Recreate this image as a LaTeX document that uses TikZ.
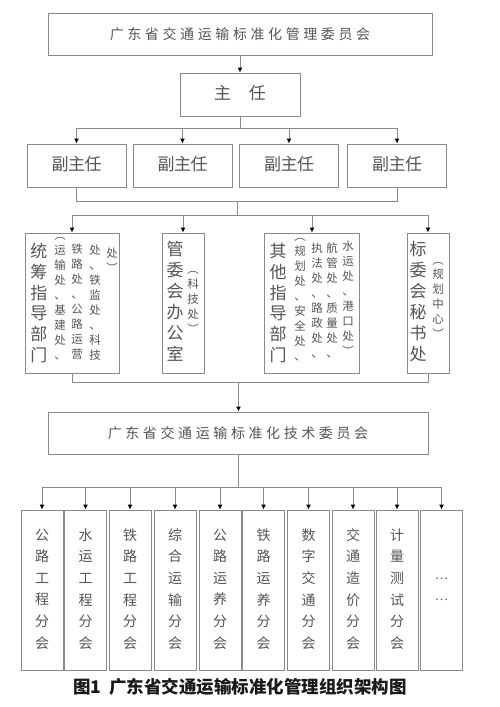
\documentclass[tikz,border=0pt]{standalone}
\usepackage{fontspec}
\usetikzlibrary{arrows.meta}
\newfontfamily\cjk{Noto Sans CJK SC}
\definecolor{txt}{HTML}{555555}
\definecolor{bord}{HTML}{8A8A8A}
\definecolor{lncol}{HTML}{8A8A8A}
\newdimen\cpitch
\def\vcend{}
\def\vcloop#1{\ifx#1\vcend\else\hbox to 1em{\hss#1\hss}\expandafter\vcloop\fi}
\newcommand\vcol[2]{\vbox{\baselineskip=#1\lineskiplimit=-100pt\lineskip=0pt\vcloop#2\vcend}}
\newcommand\vcolE[2]{\edef\tmpvc{\noexpand\vcol{#1}{#2}}\tmpvc}
\def\hrloop#1{\ifx#1\vcend\else\hbox to \cpitch{\hss#1\hss}\expandafter\hrloop\fi}
\newcommand\hrow[2]{\cpitch=#1\hbox{\hrloop#2\vcend}}
\tikzset{
  box/.style={draw=bord, line width=0.9pt, fill=white, inner sep=0pt},
  lbl/.style={inner sep=0pt, text=txt, font=\cjk},
  ln/.style={draw=lncol, line width=0.9pt},
  arr/.style={draw=lncol, line width=0.9pt, -{Latex[length=5pt,width=5pt,color=black]}},
}
\begin{document}
\begin{tikzpicture}[x=1pt,y=-1pt]
\useasboundingbox (0,0) rectangle (500,707);
\fill[white] (0,0) rectangle (500,707);
% top
\node[box, minimum width=384pt, minimum height=42pt] (top) at (240,34) {};
\node[lbl, font=\cjk\fontsize{14}{16}\selectfont] (toptx) at (240,34) {\hrow{17.6pt}{广东省交通运输标准化管理委员会}};
\node[box, minimum width=120pt, minimum height=43pt] (zr) at (240,94.5) {};
\node[lbl, font=\cjk\fontsize{17}{19}\selectfont] (zrtx) at (240,93.5) {\hrow{35pt}{主任}};
% fu
\foreach \i/\x in {1/76.5,2/182.5,3/289,4/397}{
  \node[box, minimum width=99pt, minimum height=43pt] (fu\i) at (\x,165.5) {};
  \node[lbl, font=\cjk\fontsize{17}{19}\selectfont] (fut\i) at (\x,164.5) {\hrow{16.5pt}{副主任}};
}
% departments
\node[box, minimum width=94pt, minimum height=140pt] (d1) at (72,303) {};
\node[box, minimum width=42pt, minimum height=140pt] (d2) at (183,303) {};
\node[box, minimum width=95pt, minimum height=140pt] (d3) at (312,303) {};
\node[box, minimum width=42pt, minimum height=140pt] (d4) at (428,303) {};
\begin{scope}[every node/.style={lbl}]
\node[font=\cjk\fontsize{17}{19}\selectfont] (d1a) at (39,303) {\vcol{20.8pt}{统筹指导部门}};
\node[font=\cjk\fontsize{11.5}{13}\selectfont] (d1b) at (60,299) {\vcol{15pt}{︵运输处、基建处、}};
\node[font=\cjk\fontsize{11.5}{13}\selectfont] (d1c) at (77,302) {\vcol{15pt}{铁路处、公路运营}};
\node[font=\cjk\fontsize{11.5}{13}\selectfont] (d1d) at (95,303) {\vcol{15pt}{处、铁监处、科技}};
\node[font=\cjk\fontsize{11.5}{13}\selectfont] (d1e) at (112,260) {\vcol{15pt}{处︶}};
\node[font=\cjk\fontsize{17}{19}\selectfont] (d2a) at (175,301) {\vcol{21pt}{管委会办公室}};
\node[font=\cjk\fontsize{11.5}{13}\selectfont] (d2b) at (193,302) {\vcol{15pt}{︵科技处︶}};
\node[font=\cjk\fontsize{17}{19}\selectfont] (d3a) at (278,303) {\vcol{20.8pt}{其他指导部门}};
\node[font=\cjk\fontsize{11.5}{13}\selectfont] (d3b) at (300,300) {\vcol{15pt}{︵规划处、安全处、}};
\node[font=\cjk\fontsize{11.5}{13}\selectfont] (d3c) at (317,300) {\vcol{15pt}{执法处、路政处、}};
\node[font=\cjk\fontsize{11.5}{13}\selectfont] (d3d) at (332,300) {\vcol{15pt}{航管处、质量处、}};
\node[font=\cjk\fontsize{11.5}{13}\selectfont] (d3e) at (348,298) {\vcol{15pt}{水运处、港口处︶}};
\node[font=\cjk\fontsize{17}{19}\selectfont] (d4a) at (418,302) {\vcol{21pt}{标委会秘书处}};
\node[font=\cjk\fontsize{11.5}{13}\selectfont] (d4b) at (438,300) {\vcol{14.8pt}{︵规划中心︶}};
\end{scope}
% tech
\node[box, minimum width=380pt, minimum height=42pt] (tech) at (238.5,433) {};
\node[lbl, font=\cjk\fontsize{14}{16}\selectfont] (techtx) at (238,433.5) {\hrow{17.6pt}{广东省交通运输标准化技术委员会}};
% branches
\foreach \i/\x/\t in {1/42/公路工程分会,2/85.5/水运工程分会,3/130/铁路工程分会,4/175/综合运输分会,5/220/公路运养分会,6/263.5/铁路运养分会,7/308.5/数字交通分会,8/353/交通造价分会,9/397/计量测试分会}{
  \node[box, minimum width=42pt, minimum height=160pt] (b\i) at (\x,590) {};
  \node[lbl, font=\cjk\fontsize{14}{16}\selectfont] (bt\i) at (\x,589) {\vcolE{21.6pt}{\t}};
}
\node[box, minimum width=42pt, minimum height=160pt] (b10) at (441.5,590) {};
\node[lbl, font=\cjk\fontsize{12}{14}\selectfont] (bt10) at (441.5,589.5) {\vcol{21pt}{……}};
% caption
\node[inner sep=0pt, text=black!90, font=\cjk\bfseries\fontsize{17.5}{20}\selectfont] (cap) at (240,687) {图1\hspace{0.45em}广东省交通运输标准化管理组织架构图};
% connectors
\draw[arr] (top) -- (zr);
\coordinate (bus1) at (240,128);
\draw[ln] (zr.south) -- (bus1);
\draw[ln] (fu1.north |- bus1) -- (fu4.north |- bus1);
\foreach \i in {1,...,4} \draw[arr] (fu\i.north |- bus1) -- (fu\i.north);
\coordinate (bus2) at (237,201);
\coordinate (bus3) at (237,215);
\draw[ln] (fu1.south) -- (fu1.south |- bus2) -- (fu4.south |- bus2) -- (fu4.south);
\draw[ln] (bus2) -- (bus3);
\draw[ln] (d1.north |- bus3) -- (d4.north |- bus3);
\foreach \i in {1,...,4} \draw[arr] (d\i.north |- bus3) -- (d\i.north);
\coordinate (bus4) at (238.5,382);
\draw[ln] (d1.south) -- (d1.south |- bus4) -- (d4.south |- bus4) -- (d4.south);
\draw[arr] (bus4) -- (tech.north);
\coordinate (bus5) at (238.5,487);
\draw[ln] (tech.south) -- (bus5);
\draw[ln] (b1.north |- bus5) -- (b10.north |- bus5);
\foreach \i in {1,...,10} \draw[arr] (b\i.north |- bus5) -- (b\i.north);
\end{tikzpicture}
\end{document}
